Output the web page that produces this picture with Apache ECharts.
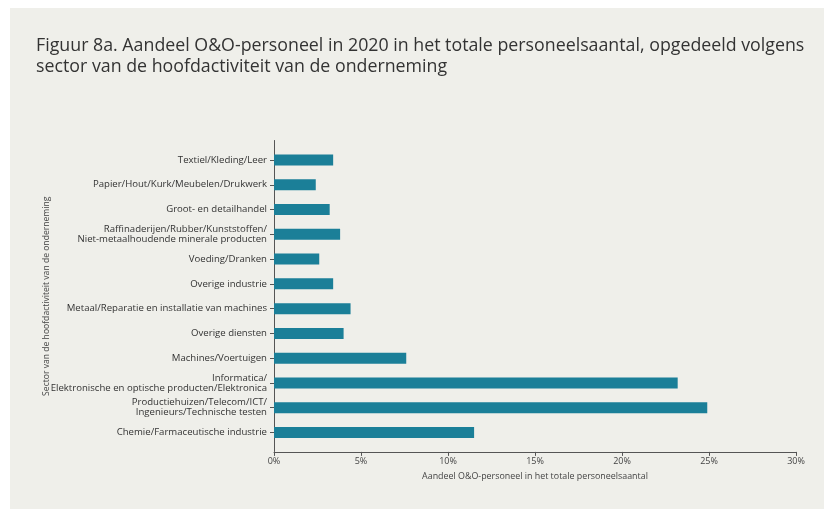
<!DOCTYPE html>
<html>
<head>
<meta charset="utf-8">
<script src="https://cdn.jsdelivr.net/npm/echarts@6/dist/echarts.min.js"></script>
<style>
  html, body { margin: 0; padding: 0; background: #ffffff; }
  #panel { position: absolute; left: 10px; top: 8px; right: 0; bottom: 0; background: #efefea; }
  #chart { position: absolute; left: 0; top: 0; width: 824px; height: 509px; }
</style>
</head>
<body>
<div id="panel"></div>
<div id="chart"></div>
<script>
const titleText = 'Figuur 8a. Aandeel O&O-personeel in 2020 in het totale personeelsaantal, opgedeeld volgens\nsector van de hoofdactiviteit van de onderneming';
const categories = [
  'Textiel/Kleding/Leer',
  'Papier/Hout/Kurk/Meubelen/Drukwerk',
  'Groot- en detailhandel',
  'Raffinaderijen/Rubber/Kunststoffen/\nNiet-metaalhoudende minerale producten',
  'Voeding/Dranken',
  'Overige industrie',
  'Metaal/Reparatie en installatie van machines',
  'Overige diensten',
  'Machines/Voertuigen',
  'Informatica/\nElektronische en optische producten/Elektronica',
  'Productiehuizen/Telecom/ICT/\nIngenieurs/Technische testen',
  'Chemie/Farmaceutische industrie'
];
const shares = [3.4, 2.4, 3.2, 3.8, 2.6, 3.4, 4.4, 4.0, 7.6, 23.2, 24.9, 11.5];
const xTicks = [0, 5, 10, 15, 20, 25, 30];
const xAxisTitle = 'Aandeel O&O-personeel in het totale personeelsaantal';
const yAxisTitle = 'Sector van de hoofdactiviteit van de onderneming';

const chart = echarts.init(document.getElementById('chart'), null, { renderer: 'canvas' });
const font = "'Open Sans', sans-serif";
const gridLeft = 274, gridRight = 28, gridTop = 147.6, gridBottom = 64.1;
chart.setOption({
  backgroundColor: 'transparent',
  animation: false,
  title: {
    text: titleText,
    left: 31, top: 30,
    textStyle: { fontFamily: font, fontSize: 17.8, fontWeight: 'normal', color: '#333333', lineHeight: 21 }
  },
  grid: { left: gridLeft, right: gridRight, top: gridTop, bottom: gridBottom, containLabel: false },
  xAxis: {
    type: 'value',
    min: xTicks[0], max: xTicks[xTicks.length - 1], interval: xTicks[1] - xTicks[0],
    offset: 7,
    name: xAxisTitle, nameLocation: 'middle', nameGap: 20,
    nameTextStyle: { fontFamily: font, fontSize: 8.9, color: '#444444' },
    axisLine: { show: true, lineStyle: { color: '#555555', width: 1 } },
    axisTick: { show: true, length: 4, lineStyle: { color: '#555555' } },
    axisLabel: { fontFamily: font, fontSize: 9, color: '#444444', margin: 5, formatter: v => v + '%' },
    splitLine: { show: false }
  },
  yAxis: {
    type: 'category', data: categories, inverse: true,
    name: yAxisTitle, nameLocation: 'middle', nameGap: 223, nameRotate: 90,
    nameMoveOverlap: false,
    nameTextStyle: { fontFamily: font, fontSize: 8.6, color: '#444444' },
    axisLine: { show: false },
    axisTick: { show: true, alignWithLabel: true, length: 4, lineStyle: { color: '#555555' } },
    axisLabel: { fontFamily: font, fontSize: 9.6, color: '#333333', margin: 7, lineHeight: 10, align: 'right' }
  },
  series: [{
    type: 'bar', data: shares, barWidth: 11,
    itemStyle: { color: '#1b7f98' }
  }]
});
// y-axis line extended slightly beyond the band area (as in the original plot region)
const p0 = chart.convertToPixel({ xAxisIndex: 0 }, 0);
chart.setOption({
  graphic: [{
    type: 'line', silent: true,
    shape: { x1: p0 + 0.5, y1: gridTop - 7.5, x2: p0 + 0.5, y2: 509 - gridBottom + 7 },
    style: { stroke: '#555555', lineWidth: 1 }
  }]
});
</script>
</body>
</html>
